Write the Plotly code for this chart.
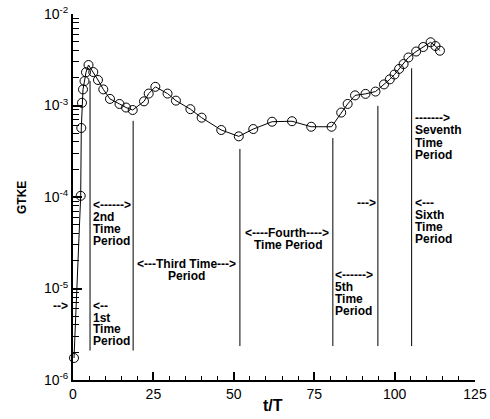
import plotly.graph_objects as go

# ---- data ----
t_vals = [0.31, 2.39, 2.58, 2.80, 3.11, 3.58, 4.04, 4.82, 6.31, 7.77, 9.42, 11.5,
          14.46, 16.5, 18.56, 22.08, 23.54, 25.6, 29.4, 32.0, 36.5, 40.0, 46.1,
          51.55, 56.06, 61.9, 68.1, 74.07, 80.4, 83.4, 85.4, 87.7, 90.95, 94.06,
          96.7, 98.5, 99.97, 101.4, 102.8, 104.3, 106.7, 108.9, 111.2, 112.7, 114.1]
gtke_vals = [1.74e-6, 1.03e-4, 5.68e-4, 1.07e-3, 1.50e-3, 1.85e-3, 2.31e-3, 2.77e-3,
             2.32e-3, 1.90e-3, 1.50e-3, 1.18e-3, 1.04e-3, 9.5e-4, 8.93e-4, 1.11e-3,
             1.35e-3, 1.60e-3, 1.35e-3, 1.13e-3, 9.12e-4, 7.36e-4, 5.40e-4, 4.60e-4,
             5.53e-4, 6.65e-4, 6.73e-4, 5.86e-4, 5.86e-4, 8.37e-4, 1.04e-3, 1.29e-3,
             1.34e-3, 1.42e-3, 1.70e-3, 1.93e-3, 2.18e-3, 2.51e-3, 2.84e-3, 3.35e-3,
             3.89e-3, 4.36e-3, 4.91e-3, 4.47e-3, 3.97e-3]

period_bounds = [5.3, 18.7, 51.9, 80.8, 94.8, 105.3]
bound_tops = [1.85e-3, 6.8e-4, 3.35e-4, 4.4e-4, 9.9e-4, 2.55e-3]
bound_bottoms = [2.1e-6, 2.1e-6, 2.35e-6, 2.35e-6, 2.35e-6, 2.35e-6]

x_ticks = [0, 25, 50, 75, 100, 125]
y_ticks = [1e-6, 1e-5, 1e-4, 1e-3, 1e-2]
y_ticktext = ["10<sup>-6</sup>", "10<sup>-5</sup>", "10<sup>-4</sup>",
              "10<sup>-3</sup>", "10<sup>-2</sup>"]

FONT = "Liberation Sans, Arial, sans-serif"

fig = go.Figure()

# period boundary lines
bx, by = [], []
for x, y0, y1 in zip(period_bounds, bound_bottoms, bound_tops):
    bx += [x, x, None]
    by += [y0, y1, None]
fig.add_trace(go.Scatter(x=bx, y=by, mode="lines",
                         line=dict(color="black", width=1), hoverinfo="skip",
                         showlegend=False))

fig.add_trace(go.Scatter(x=t_vals, y=gtke_vals, mode="lines+markers",
                         line=dict(color="black", width=1),
                         marker=dict(symbol="circle-open", size=9,
                                     color="black", line=dict(width=1)),
                         cliponaxis=False, showlegend=False))

# layout geometry (pixels)
L, R, T, B = 73, 475, 14, 380
W, H = 490, 419


def px(xp):
    return (xp - L) / (R - L)


def py(yp):
    return (B - yp) / (B - T)


ann = []


def text(s, xp, yp, anchor="left", size=12):
    ann.append(dict(text="<b>" + s + "</b>", x=px(xp), y=py(yp),
                    xref="paper", yref="paper", xanchor=anchor,
                    yanchor="middle", showarrow=False, borderpad=0,
                    font=dict(family=FONT, size=size, color="black")))


# labels: each line placed separately (tight line spacing)
for s, y in zip(["&lt;--", "1st", "Time", "Period"], [306, 317.5, 329, 340.5]):
    text(s, 92, y)
for s, y in zip(["&lt;------&gt;", "2nd", "Time", "Period"], [205, 217, 229, 241]):
    text(s, 92, y)
text("--&gt;", 69, 306, anchor="right")
text("&lt;---Third Time---&gt;", 186.5, 264, anchor="center")
text("Period", 186.5, 276, anchor="center")
text("&lt;----Fourth----&gt;", 286.5, 233.5, anchor="center")
text("Time Period", 287.5, 245, anchor="center")
for s, y in zip(["&lt;------&gt;", "5th", "Time", "Period"], [275, 287, 299, 311]):
    text(s, 334, y)
text("---&gt;", 377, 203, anchor="right")
for s, y in zip(["&lt;---", "Sixth", "Time", "Period"], [203, 215, 227, 239]):
    text(s, 414, y)
for s, y in zip(["-------&gt;", "Seventh", "Time", "Period"], [118, 130, 142.5, 155]):
    text(s, 414, y)

# axis titles
ann.append(dict(text="<b>GTKE</b>", x=px(22), y=py(198), xref="paper",
                yref="paper", textangle=-90, showarrow=False,
                xanchor="center", yanchor="middle",
                font=dict(family=FONT, size=12, color="black")))
ann.append(dict(text="<b>t/T</b>", x=px(273), y=py(405), xref="paper",
                yref="paper", showarrow=False, xanchor="center",
                yanchor="middle", font=dict(family=FONT, size=16, color="black")))

minor_y = [k * 10.0 ** e for e in range(-6, -2) for k in range(2, 10)]

fig.update_layout(
    width=W, height=H,
    margin=dict(l=L, r=W - R, t=T, b=H - B, pad=0, autoexpand=False),
    paper_bgcolor="white", plot_bgcolor="white",
    annotations=ann,
    xaxis=dict(range=[0, 125], showgrid=False, zeroline=False, automargin=False,
               showline=True, linecolor="black", linewidth=2,
               ticks="inside", ticklen=8, tickwidth=1.5, tickcolor="black",
               tickvals=x_ticks, ticktext=[str(v) for v in x_ticks],
               tickfont=dict(family=FONT, size=14, color="black"),
               minor=dict(ticks="inside", ticklen=4, tickwidth=1,
                          tickcolor="black", dtick=5, showgrid=False)),
    yaxis=dict(type="log", range=[-6, -2], showgrid=False, zeroline=False,
               automargin=False,
               showline=True, linecolor="black", linewidth=2,
               ticks="inside", ticklen=9, tickwidth=1.5, tickcolor="black",
               tickvals=y_ticks, ticktext=y_ticktext,
               tickfont=dict(family=FONT, size=14, color="black"),
               minor=dict(ticks="inside", ticklen=6, tickwidth=1,
                          tickcolor="black", tickmode="array",
                          tickvals=minor_y, showgrid=False)),
)

fig.write_html("out.html")
